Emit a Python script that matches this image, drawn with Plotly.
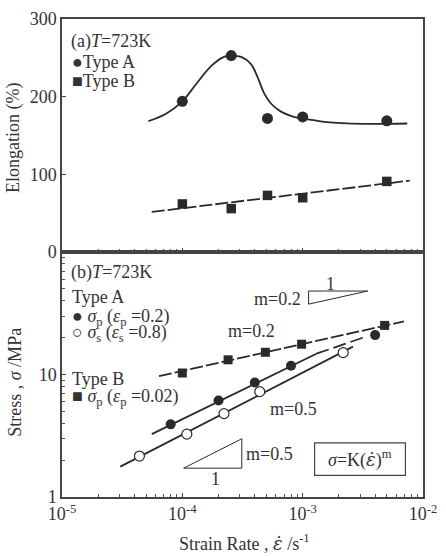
import plotly.graph_objects as go

# ---------------- data ----------------
# (a) elongation vs strain rate
rate_a = [1.0e-4, 2.55e-4, 5.1e-4, 1.0e-3, 5.0e-3]
elong_A = [194, 253, 172, 174, 169]
rate_b = [1.0e-4, 2.55e-4, 5.1e-4, 1.0e-3, 5.0e-3]
elong_B = [62, 56, 73, 70, 91]
# smooth guide curve for Type A
curveA_x = [5.22e-5, 7.26e-5, 1.0e-4, 1.28e-4, 1.75e-4, 2.25e-4, 2.55e-4, 3.08e-4,
            3.72e-4, 4.22e-4, 4.79e-4, 5.42e-4, 6.55e-4, 8.43e-4, 1.23e-3, 1.58e-3,
            3.16e-3, 7.4e-3]
curveA_y = [168.5, 177.7, 194, 214.7, 239.9, 251.5, 252.5, 251.2,
            242, 225.3, 204.2, 191.6, 181.1, 174, 169.8, 167.3,
            165.1, 165.5]
lineB_top_x = [5.57e-5, 7.76e-3]
lineB_top_y = [51.7, 92]

# (b) stress vs strain rate
sigB_x = [1.0e-4, 2.4e-4, 4.9e-4, 9.8e-4, 4.8e-3]
sigB_y = [10.3, 13.2, 15.2, 17.7, 25.2]
sigA_p_x = [8.0e-5, 2.0e-4, 4.0e-4, 8.0e-4, 4.0e-3]
sigA_p_y = [3.92, 6.14, 8.6, 11.8, 21.0]
sigA_s_x = [4.4e-5, 1.09e-4, 2.22e-4, 4.4e-4, 2.17e-3]
sigA_s_y = [2.16, 3.26, 4.8, 7.25, 15.1]
fitB_x = [6.4e-5, 6.95e-3]
fitB_y = [9.7, 27.2]
fitAp_x = [5.57e-5, 1.3e-3]
fitAp_y = [3.26, 14.8]
fitAp_ext_x = [1.3e-3, 3.4e-3]
fitAp_ext_y = [14.8, 20.5]
fitAs_x = [3.05e-5, 2.62e-3]
fitAs_y = [1.77, 16.9]
# slope triangles
tri02_x = [1.12e-3, 3.47e-3, 1.12e-3, 1.12e-3]
tri02_y = [48.1, 48.1, 37.6, 48.1]
tri05_x = [1.026e-4, 3.12e-4, 3.12e-4, 1.026e-4]
tri05_y = [1.72, 1.72, 2.99, 1.72]

x_decades = [1e-5, 1e-4, 1e-3, 1e-2]
x_decade_labels = ["10<sup>-5</sup>", "10<sup>-4</sup>", "10<sup>-3</sup>", "10<sup>-2</sup>"]
y2_decades = [1, 10]
y2_decade_labels = ["1", "10"]
y1_ticks = [0, 100, 200, 300]

# ---------------- layout helpers ----------------
W, H = 446, 556
L, R, T, B = 62, 20, 9, 59
PW, PH = W - L - R, H - T - B
split = (497 - 247) / PH


def px(x):
    return (x - L) / PW


def py(y):
    return (H - B - y) / PH


FONT = "Liberation Serif, Times New Roman, serif"
INK = "#2a2a2a"
TXT = "#333333"
EPSDOT = '<span style="font-family:DejaVu Serif"><i>ε̇</i></span>'

fig = go.Figure()

# ---- panel (a)
fig.add_trace(go.Scatter(x=curveA_x, y=curveA_y, mode="lines", line=dict(color=INK, width=1.8, shape="spline"),
                         xaxis="x", yaxis="y", hoverinfo="skip"))
fig.add_trace(go.Scatter(x=lineB_top_x, y=lineB_top_y, mode="lines", line=dict(color=INK, width=1.8, dash="13px,3px"),
                         xaxis="x", yaxis="y"))
fig.add_trace(go.Scatter(x=rate_a, y=elong_A, mode="markers", marker=dict(symbol="circle", size=11, color=INK),
                         xaxis="x", yaxis="y"))
fig.add_trace(go.Scatter(x=rate_b, y=elong_B, mode="markers", marker=dict(symbol="square", size=9.5, color=INK),
                         xaxis="x", yaxis="y"))

# ---- panel (b)
fig.add_trace(go.Scatter(x=fitB_x, y=fitB_y, mode="lines", line=dict(color=INK, width=1.8, dash="13px,3px"),
                         xaxis="x2", yaxis="y2"))
fig.add_trace(go.Scatter(x=fitAp_x, y=fitAp_y, mode="lines", line=dict(color=INK, width=1.8),
                         xaxis="x2", yaxis="y2"))
fig.add_trace(go.Scatter(x=fitAp_ext_x, y=fitAp_ext_y, mode="lines", line=dict(color=INK, width=1.8, dash="13px,5px"),
                         xaxis="x2", yaxis="y2"))
fig.add_trace(go.Scatter(x=fitAs_x, y=fitAs_y, mode="lines", line=dict(color=INK, width=1.8),
                         xaxis="x2", yaxis="y2"))
fig.add_trace(go.Scatter(x=sigB_x, y=sigB_y, mode="markers", marker=dict(symbol="square", size=9, color=INK),
                         xaxis="x2", yaxis="y2"))
fig.add_trace(go.Scatter(x=sigA_p_x, y=sigA_p_y, mode="markers", marker=dict(symbol="circle", size=10, color=INK),
                         xaxis="x2", yaxis="y2"))
fig.add_trace(go.Scatter(x=sigA_s_x, y=sigA_s_y, mode="markers",
                         marker=dict(symbol="circle", size=10, color="white", line=dict(color=INK, width=1.2)),
                         xaxis="x2", yaxis="y2"))
fig.add_trace(go.Scatter(x=tri02_x, y=tri02_y, mode="lines", line=dict(color=INK, width=1),
                         xaxis="x2", yaxis="y2"))
fig.add_trace(go.Scatter(x=tri05_x, y=tri05_y, mode="lines", line=dict(color=INK, width=1),
                         xaxis="x2", yaxis="y2"))

# minor log ticks
x_minor = [d * k for d in x_decades[:-1] for k in range(2, 10)]
y2_minor = [d * k for d in [1, 10] for k in range(2, 10)]

axis_common = dict(showline=True, linecolor="#444", linewidth=1.5, mirror=True, showgrid=False, zeroline=False,
                   ticks="inside", tickcolor="#444", ticklen=4, tickwidth=1,
                   tickfont=dict(family=FONT, size=18, color=TXT))
minor_x = dict(tickvals=x_minor, ticks="inside", ticklen=3, tickcolor="#555", tickwidth=1, showgrid=False)
minor_y = dict(tickvals=y2_minor, ticks="inside", ticklen=3, tickcolor="#555", tickwidth=1, showgrid=False)

fig.update_layout(
    width=W, height=H, margin=dict(l=L, r=R, t=T, b=B),
    paper_bgcolor="white", plot_bgcolor="white", showlegend=False,
    font=dict(family=FONT, size=18, color=TXT),
    xaxis=dict(type="log", range=[-5, -2], domain=[0, 1], anchor="y", tickvals=x_decades,
               showticklabels=False, minor=minor_x, **axis_common),
    yaxis=dict(range=[0, 300], domain=[split, 1], anchor="x", tickvals=y1_ticks, **axis_common),
    xaxis2=dict(type="log", range=[-5, -2], domain=[0, 1], anchor="y2", matches="x", tickvals=x_decades,
                ticktext=x_decade_labels, minor=minor_x, **axis_common),
    yaxis2=dict(type="log", range=[0, 2], domain=[0, split], anchor="x2", tickvals=y2_decades,
                ticktext=y2_decade_labels, minor=minor_y, **axis_common),
)

ann = []


def add_text(x, y, text, xanchor="left", size=18, angle=0):
    ann.append(dict(x=px(x), y=py(y), xref="paper", yref="paper", text=text, showarrow=False,
                    xanchor=xanchor, yanchor="middle", textangle=angle,
                    font=dict(family=FONT, size=size, color=TXT)))


add_text(69, 32, "(a)<i>T</i>=723K")
add_text(70, 53, "●Type A")
add_text(70, 72, "■Type B")
add_text(69, 268, "(b)<i>T</i>=723K")
add_text(70, 293, "Type A")
add_text(70, 314, "● <i>σ</i><sub>p</sub> (<i>ε</i><sub>p</sub> =0.2)")
add_text(70, 330, "○ <i>σ</i><sub>s</sub> (<i>ε</i><sub>s</sub> =0.8)")
add_text(70, 377, "Type B")
add_text(70, 395, "■ <i>σ</i><sub>p</sub> (<i>ε</i><sub>p</sub> =0.02)")
add_text(279, 295, "m=0.2", xanchor="center")
add_text(333, 280, "1", xanchor="center")
add_text(253, 328, "m=0.2", xanchor="center")
add_text(295, 407, "m=0.5", xanchor="center")
add_text(271, 453, "m=0.5", xanchor="center")
add_text(217, 479, "1", xanchor="center")
add_text(362.5, 458, "<i>σ</i>=K(" + EPSDOT + ")<sup>m</sup>", xanchor="center")
add_text(246, 543, "Strain Rate , " + EPSDOT + " /s<sup>-1</sup>", xanchor="center")
add_text(13, 130, "Elongation (%)", xanchor="center", angle=-90)
add_text(15, 380, "Stress , <i>σ</i> /MPa", xanchor="center", angle=-90)

fig.update_layout(annotations=ann)
fig.add_shape(type="rect", xref="paper", yref="paper", x0=px(316.7), x1=px(408.3), y0=py(475), y1=py(441.7),
              line=dict(color="#444", width=1.2))

fig.write_html("out.html")
